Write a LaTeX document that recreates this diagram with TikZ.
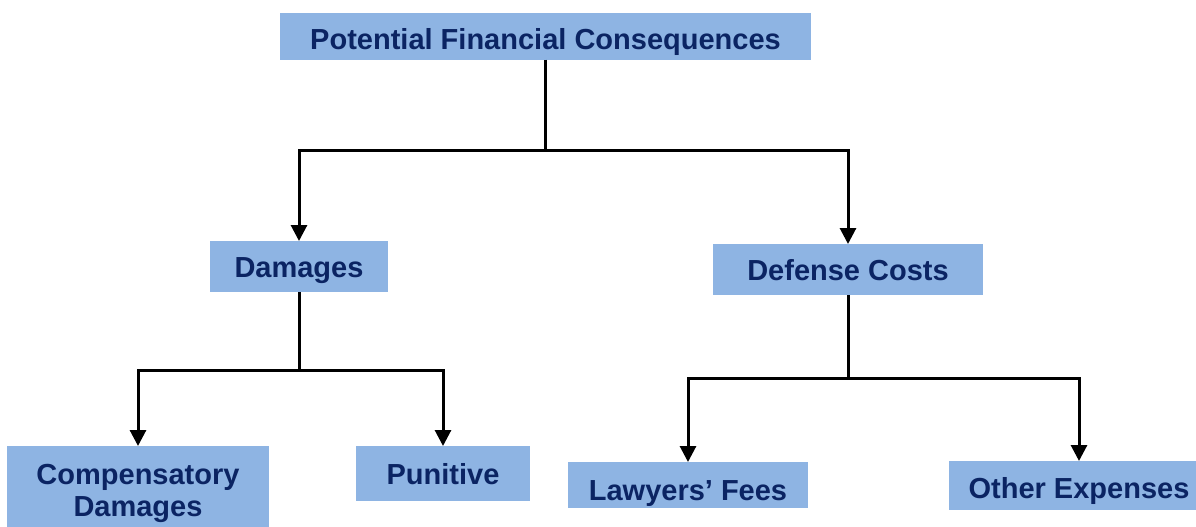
\documentclass[tikz,border=0pt]{standalone}
\usepackage{fontspec}
\setmainfont{Liberation Sans}
\usetikzlibrary{arrows.meta}
\definecolor{boxblue}{HTML}{8EB4E3}
\definecolor{navy}{HTML}{0B2463}
\tikzset{
  base/.style={font=\bfseries\fontsize{29}{32}\selectfont,align=center,fill=boxblue,text=navy,inner sep=0pt,outer sep=0pt,text depth=0pt},
  level/.style={base,text height=21pt},
  flow/.style={-{Triangle[length=16pt,width=16pt]},line width=3pt,draw=black}
}
\begin{document}
\begin{tikzpicture}[x=1pt,y=-1pt]
\useasboundingbox (0,0) rectangle (1196,527);
\clip (0,0) rectangle (1196,527);
\node[level,minimum width=531,minimum height=47,text height=27pt] (top) at (545.5,36.5) {Potential Financial Consequences};

\node[level,minimum width=178,minimum height=51] (damages) at (299,266.5) {Damages};
\node[level,minimum width=270,minimum height=51] (defense) at (848,269.5) {Defense Costs};

\node[base,minimum width=262,minimum height=88] (comp) at (138,490) {Compensatory\\Damages};
\node[level,minimum width=174,minimum height=55] (punitive) at (443,473.5) {Punitive};
\node[level,minimum width=240,minimum height=46,text height=30pt] (lawyers) at (688,485) {Lawyers’ Fees};
\node[level,minimum width=260,minimum height=49,text height=25pt] (other) at (1079,485.5) {Other Expenses};

\draw[flow] (top.south) -- ++(0,90) -| (damages.north);
\draw[flow] (top.south) -- ++(0,90) -| (defense.north);
\draw[flow] (damages.south) -- ++(0,78) -| (comp.north);
\draw[flow] (damages.south) -- ++(0,78) -| (punitive.north);
\draw[flow] (defense.south) -- ++(0,83) -| (lawyers.north);
\draw[flow] (defense.south) -- ++(0,83) -| (other.north);
\end{tikzpicture}
\end{document}
